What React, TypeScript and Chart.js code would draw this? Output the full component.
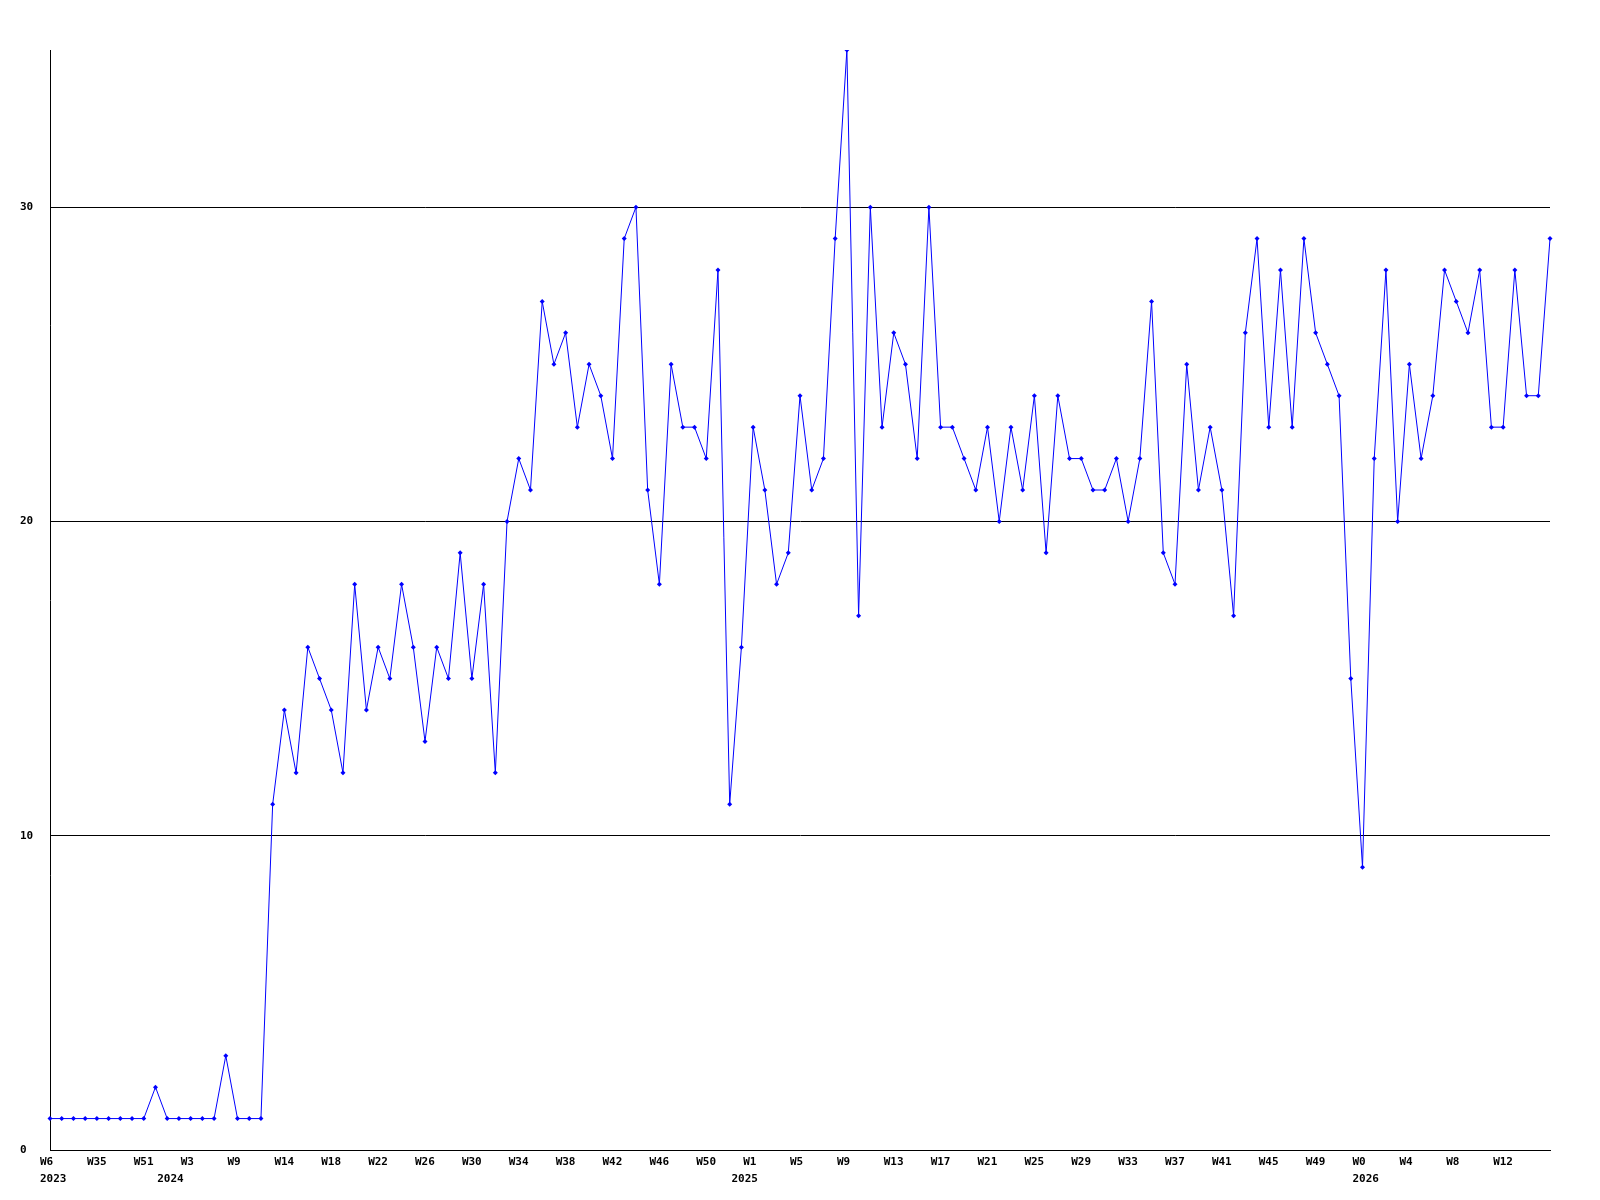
import React, { useEffect, useRef } from "react";
import { Chart, registerables } from "chart.js";

Chart.register(...registerables);

const values = [
  1, 1, 1, 1, 1, 1, 1, 1, 1, 2,
  1, 1, 1, 1, 1, 3, 1, 1, 1, 11,
  14, 12, 16, 15, 14, 12, 18, 14, 16, 15,
  18, 16, 13, 16, 15, 19, 15, 18, 12, 20,
  22, 21, 27, 25, 26, 23, 25, 24, 22, 29,
  30, 21, 18, 25, 23, 23, 22, 28, 11, 16,
  23, 21, 18, 19, 24, 21, 22, 29, 35, 17,
  30, 23, 26, 25, 22, 30, 23, 23, 22, 21,
  23, 20, 23, 21, 24, 19, 24, 22, 22, 21,
  21, 22, 20, 22, 27, 19, 18, 25, 21, 23,
  21, 17, 26, 29, 23, 28, 23, 29, 26, 25,
  24, 15, 9, 22, 28, 20, 25, 22, 24, 28,
  27, 26, 28, 23, 23, 28, 24, 24, 29,
];

// one week label every 4th point
const weekTicks = [
  "W6", "W35", "W51", "W3", "W9", "W14", "W18", "W22", "W26", "W30",
  "W34", "W38", "W42", "W46", "W50", "W1", "W5", "W9", "W13", "W17",
  "W21", "W25", "W29", "W33", "W37", "W41", "W45", "W49", "W0", "W4",
  "W8", "W12",
];
const weekTickEvery = 4;

const years = ["2023", "2024", "2025", "2026"];
const yearFirstPoint = [0, 10, 59, 112];

const yTicks = [0, 10, 20, 30];
const yMax = 35;

const weekLabels = values.map((_, i) =>
  i % weekTickEvery === 0 ? weekTicks[i / weekTickEvery] ?? "" : ""
);
const yearLabels = values.map((_, i) => {
  const k = yearFirstPoint.indexOf(i);
  return k >= 0 ? years[k] : "";
});

const FONT = { family: "'DejaVu Sans Mono', monospace", size: 11, weight: "bold" as const };

export default function App() {
  const ref = useRef<HTMLCanvasElement | null>(null);

  useEffect(() => {
    document.body.style.margin = "0";
    if (!ref.current) return;
    const chart = new Chart(ref.current, {
      type: "line",
      data: {
        labels: weekLabels,
        datasets: [
          {
            data: values,
            borderColor: "#0000ff",
            backgroundColor: "#0000ff",
            borderWidth: 1,
            tension: 0,
            pointStyle: "rectRot",
            pointRadius: 2.5,
            pointBorderWidth: 0,
            pointBackgroundColor: "#0000ff",
            fill: false,
            xAxisID: "x",
            yAxisID: "y",
          },
        ],
      },
      options: {
        animation: false,
        responsive: false,
        maintainAspectRatio: false,
        layout: { padding: { top: 50, right: 50, left: 20, bottom: 0 } },
        plugins: { legend: { display: false }, tooltip: { enabled: false } },
        scales: {
          x: {
            type: "category",
            offset: false,
            grid: { display: false, drawTicks: false },
            border: { display: true, color: "#000", width: 1 },
            ticks: {
              autoSkip: false,
              maxRotation: 0,
              minRotation: 0,
              align: "start",
              labelOffset: -10,
              padding: 6,
              color: "#000",
              font: FONT,
            },
            afterFit: (s: any) => {
              s.height = 22;
            },
          },
          x2: {
            type: "category",
            position: "bottom",
            labels: yearLabels,
            offset: false,
            grid: { display: false, drawTicks: false },
            border: { display: false },
            ticks: {
              autoSkip: false,
              maxRotation: 0,
              minRotation: 0,
              align: "start",
              labelOffset: -10,
              padding: 1,
              color: "#000",
              font: FONT,
            },
            afterFit: (s: any) => {
              s.height = 28;
            },
          },
          y: {
            type: "linear",
            min: 0,
            max: yMax,
            afterBuildTicks: (axis: any) => {
              axis.ticks = yTicks.map((v) => ({ value: v }));
            },
            grid: { color: "#000", lineWidth: 1, drawTicks: false },
            border: { display: true, color: "#000", width: 1 },
            ticks: {
              crossAlign: "far",
              padding: 0,
              color: "#000",
              font: FONT,
            },
            afterFit: (s: any) => {
              s.width = 30;
            },
          },
        },
      },
    });
    return () => chart.destroy();
  }, []);

  return (
    <div style={{ position: "absolute", left: 0, top: 0, width: 1600, height: 1200, background: "#fff" }}>
      <canvas ref={ref} width={1600} height={1200} style={{ width: 1600, height: 1200 }} />
    </div>
  );
}
